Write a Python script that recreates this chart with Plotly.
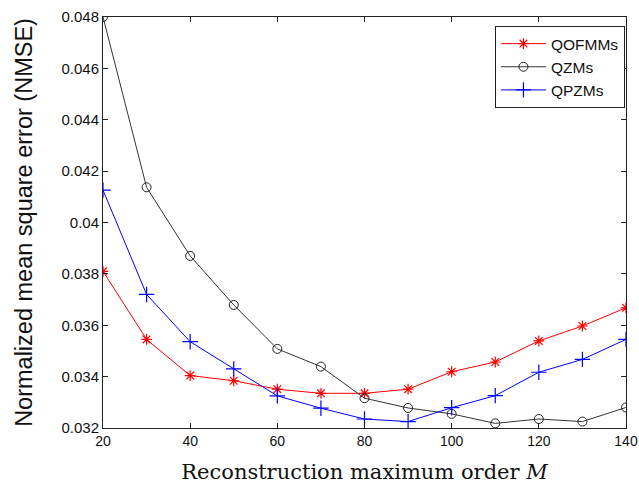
import plotly.graph_objects as go

orders = [20, 30, 40, 50, 60, 70, 80, 90, 100, 110, 120, 130, 140]
qofmms = [0.0381, 0.03545, 0.03404, 0.03384, 0.03351, 0.03335, 0.03335, 0.03351, 0.03419, 0.03457, 0.03539, 0.03597, 0.03668]
qzms = [0.0480, 0.04137, 0.0387, 0.03679, 0.03508, 0.03439, 0.03316, 0.03278, 0.03255, 0.03218, 0.03235, 0.03225, 0.0328]
qpzms = [0.04126, 0.0372, 0.03536, 0.0343, 0.03325, 0.03277, 0.03235, 0.03225, 0.03279, 0.03326, 0.03417, 0.03467, 0.03545]

x_ticks = [20, 40, 60, 80, 100, 120, 140]
y_ticks = [0.032, 0.034, 0.036, 0.038, 0.04, 0.042, 0.044, 0.046, 0.048]
y_tick_text = ["0.032", "0.034", "0.036", "0.038", "0.04", "0.042", "0.044", "0.046", "0.048"]

fig = go.Figure()
fig.add_trace(go.Scatter(x=orders, y=qofmms, name="QOFMMs", mode="lines+markers",
                         line=dict(color="#ff0000", width=1),
                         marker=dict(symbol="asterisk-open", size=9, color="#ff0000",
                                     line=dict(color="#ff0000", width=1.2))))
fig.add_trace(go.Scatter(x=orders, y=qzms, name="QZMs", mode="lines+markers",
                         line=dict(color="#333333", width=1),
                         marker=dict(symbol="circle-open", size=9, color="#222222",
                                     line=dict(color="#222222", width=1))))
fig.add_trace(go.Scatter(x=orders, y=qpzms, name="QPZMs", mode="lines+markers",
                         line=dict(color="#0000ff", width=1),
                         marker=dict(symbol="cross-thin-open", size=11, color="#0000ff",
                                     line=dict(color="#0000ff", width=1.2))))

axis_common = dict(showline=True, linecolor="#222222", linewidth=1, mirror="ticks",
                   ticks="inside", ticklen=5, tickcolor="#222222", showgrid=False, zeroline=False,
                   automargin=False, ticklabeloverflow="allow")

fig.update_layout(
    width=639, height=491,
    paper_bgcolor="white", plot_bgcolor="white",
    margin=dict(l=103, r=13, t=17, b=63),
    showlegend=True,
    legend=dict(x=0.998, y=0.978, xanchor="right", yanchor="top",
                bordercolor="#222222", borderwidth=1, bgcolor="white",
                font=dict(family="Liberation Sans, Arial", size=15.5, color="#111111"),
                tracegroupgap=0, itemwidth=45),
    xaxis=dict(range=[20, 140], tickvals=x_ticks,
               tickfont=dict(family="Liberation Sans, Arial", size=14, color="#111111"),
               title=dict(text="Reconstruction maximum order <i>M</i>",
                          font=dict(family="DejaVu Serif", size=21, color="#111111"),
                          standoff=16),
               **axis_common),
    yaxis=dict(range=[0.032, 0.048], tickvals=y_ticks, ticktext=y_tick_text,
               tickfont=dict(family="Liberation Sans, Arial", size=15, color="#111111"),
               title=dict(text="Normalized mean square error (NMSE)",
                          font=dict(family="Liberation Sans, Arial", size=23.5, color="#111111"),
                          standoff=22),
               **axis_common),
)

fig.write_html("out.html")
